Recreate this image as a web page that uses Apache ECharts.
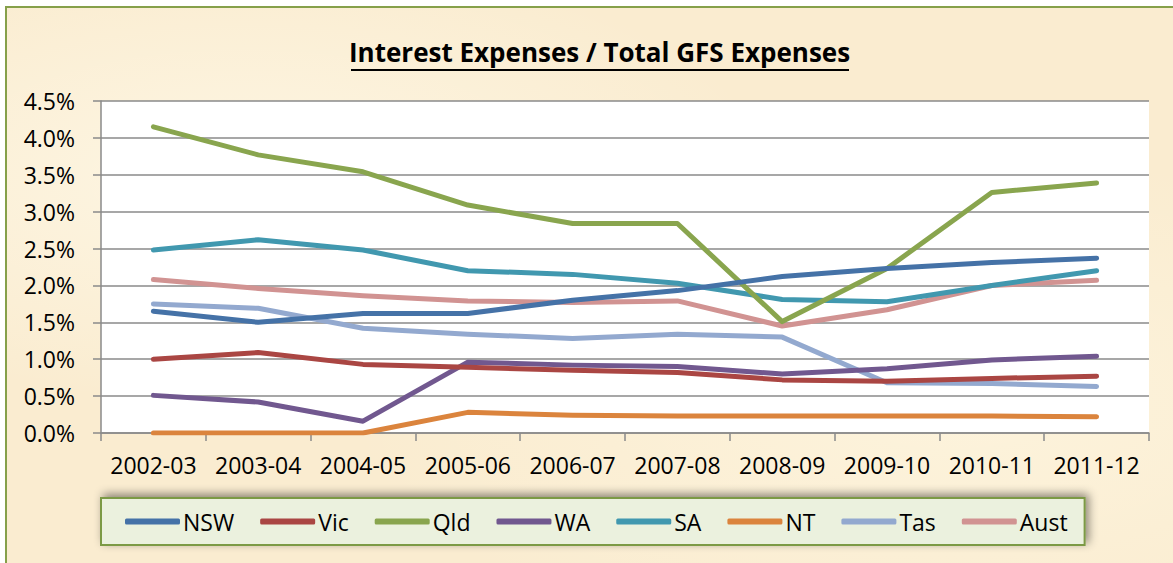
<!DOCTYPE html>
<html>
<head>
<meta charset="utf-8">
<script src="https://cdn.jsdelivr.net/npm/echarts@6/dist/echarts.min.js"></script>
<style>
  html, body { margin: 0; padding: 0; background: #fff; }
  #frame {
    position: absolute; left: 5px; top: 6px; width: 1180px; height: 570px;
    border: 2px solid #86a04a;
    background:
      radial-gradient(ellipse at 20% 30%, rgba(255,250,235,0.7), rgba(255,250,235,0) 40%),
      radial-gradient(ellipse at 80% 70%, rgba(255,248,228,0.6), rgba(255,248,228,0) 45%),
      #faecd0;
  }
  #chart { position: absolute; left: 0; top: 0; width: 1173px; height: 563px; }
</style>
</head>
<body>
<div id="frame"></div>
<div id="chart"></div>
<script>
(function () {
    var myChart = echarts.init(document.getElementById('chart'), null, { renderer: 'svg' });

    let years = ['2002-03', '2003-04', '2004-05', '2005-06', '2006-07', '2007-08', '2008-09', '2009-10', '2010-11', '2011-12'];
    let yTicks = [0, 0.5, 1.0, 1.5, 2.0, 2.5, 3.0, 3.5, 4.0, 4.5];

    let nsw  = [1.65, 1.50, 1.62, 1.62, 1.80, 1.93, 2.12, 2.23, 2.31, 2.37];
    let vic  = [1.00, 1.09, 0.93, 0.89, 0.85, 0.82, 0.72, 0.70, 0.74, 0.77];
    let qld  = [4.15, 3.77, 3.54, 3.09, 2.84, 2.84, 1.51, 2.23, 3.26, 3.39];
    let wa   = [0.51, 0.42, 0.16, 0.96, 0.92, 0.90, 0.80, 0.87, 0.99, 1.04];
    let sa   = [2.48, 2.62, 2.48, 2.20, 2.15, 2.03, 1.81, 1.78, 2.00, 2.20];
    let nt   = [0.00, 0.00, 0.00, 0.28, 0.24, 0.23, 0.23, 0.23, 0.23, 0.22];
    let tas  = [1.75, 1.69, 1.42, 1.34, 1.28, 1.34, 1.30, 0.68, 0.67, 0.63];
    let aust = [2.08, 1.96, 1.86, 1.79, 1.77, 1.79, 1.45, 1.67, 2.00, 2.07];

    let names  = ['NSW', 'Vic', 'Qld', 'WA', 'SA', 'NT', 'Tas', 'Aust'];
    let values = [nsw, vic, qld, wa, sa, nt, tas, aust];
    let colors = ['#4572a7', '#aa4643', '#89a54e', '#71588f', '#4198af', '#db843d', '#93a9cf', '#d19392'];

    let font = '"Open Sans", "DejaVu Sans", sans-serif';

    var option = {
        animation: false,
        color: colors,
        title: {
            text: 'Interest Expenses / Total GFS Expenses',
            left: 349,
            top: 39,
            padding: 0,
            textStyle: {
                fontFamily: font,
                fontWeight: 'bold',
                fontSize: 26,
                color: '#000'
            }
        },
        graphic: [
            {
                type: 'line',
                shape: { x1: 351, y1: 70, x2: 849, y2: 70 },
                style: { stroke: '#000', lineWidth: 2 }
            }
        ],
        legend: {
            data: names,
            left: 101,
            top: 498,
            padding: [12, 17, 12, 24],
            itemGap: 26,
            itemWidth: 55,
            itemHeight: 6,
            icon: 'roundRect',
            backgroundColor: '#ebf1de',
            borderColor: '#7b9a45',
            borderWidth: 2,
            borderRadius: 0,
            shadowColor: 'rgba(0,0,0,0.45)',
            shadowBlur: 10,
            shadowOffsetX: 3,
            shadowOffsetY: -3,
            textStyle: {
                fontFamily: font,
                fontSize: 23,
                color: '#000',
                padding: [0, 0, 0, -2]
            }
        },
        grid: {
            left: 101,
            top: 101,
            width: 1048,
            height: 332,
            show: true,
            backgroundColor: '#fff',
            borderWidth: 0
        },
        xAxis: {
            type: 'category',
            data: years,
            boundaryGap: true,
            axisLine: { lineStyle: { color: '#8a8a8a', width: 1.5 } },
            axisTick: { show: true, interval: 0, length: 8, lineStyle: { color: '#8a8a8a', width: 1.5 } },
            axisLabel: {
                interval: 0,
                color: '#000',
                fontFamily: font,
                fontSize: 23,
                margin: 20
            }
        },
        yAxis: {
            type: 'value',
            min: yTicks[0],
            max: yTicks[yTicks.length - 1],
            interval: 0.5,
            axisLine: { show: true, lineStyle: { color: '#8a8a8a', width: 1.5 } },
            axisTick: { show: true, length: 8, lineStyle: { color: '#8a8a8a', width: 1.5 } },
            splitLine: { lineStyle: { color: '#8a8a8a', width: 1.5 } },
            axisLabel: {
                color: '#000',
                fontFamily: font,
                fontSize: 23,
                margin: 26,
                formatter: function (v) { return v.toFixed(1) + '%'; }
            }
        },
        series: names.map(function (n, i) {
            return {
                name: n,
                type: 'line',
                data: values[i],
                showSymbol: false,
                symbol: 'none',
                lineStyle: { width: 5, cap: 'round', join: 'round' },
                z: 10 - i
            };
        })
    };

    myChart.setOption(option);
    window.addEventListener('resize', function () {
        myChart.resize();
    });
})();
</script>
</body>
</html>
